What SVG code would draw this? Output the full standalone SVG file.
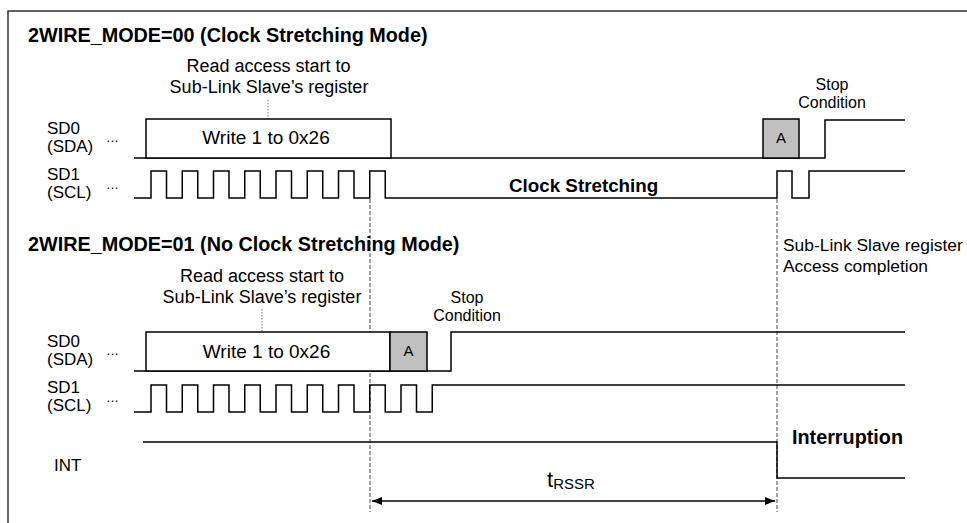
<svg xmlns="http://www.w3.org/2000/svg" width="967" height="523" viewBox="0 0 967 523">
<style>
text{font-family:"Liberation Sans",Arial,sans-serif;fill:#000}
.b{font-weight:bold}
.w{fill:none;stroke:#000;stroke-width:1.5}
.box{fill:#fff;stroke:#000;stroke-width:1.5}
.ack{fill:#c0c0c0;stroke:#000;stroke-width:1.5}
.dash{stroke:#666;stroke-width:1.2;stroke-dasharray:4 2;fill:none}
.dot{stroke:#777;stroke-width:1;stroke-dasharray:1.5 1.5;fill:none}
.m{text-anchor:middle}
.el{font-size:13px}
</style>
<defs>
<marker id="ah" viewBox="0 0 10 8" refX="10" refY="4" markerWidth="10" markerHeight="8" markerUnits="userSpaceOnUse" orient="auto-start-reverse">
<path d="M0,0 L10,4 L0,8 Z" fill="#000"/>
</marker>
</defs>
<rect width="967" height="523" fill="#fff"/>
<path d="M8,523 V11 H967" fill="none" stroke="#333" stroke-width="1.5"/>

<g id="connectors">
<path class="dash" d="M370,199 V512"/>
<path class="dash" d="M777,199 V512"/>
<path class="dot" d="M268,100 V118"/>
<path class="dot" d="M262,309 V331"/>
<path d="M372,501 H775" stroke="#000" stroke-width="1.5" fill="none" marker-start="url(#ah)" marker-end="url(#ah)"/>
</g>

<g id="section1">
<text class="b" x="28" y="42" font-size="19.8">2WIRE_MODE=00 (Clock Stretching Mode)</text>
<text class="m" x="268.5" y="72" font-size="18">Read access start to</text>
<text class="m" x="269" y="93" font-size="18">Sub-Link Slave’s register</text>
</g>

<g id="sda1">
<text x="47" y="134" font-size="17">SD0</text>
<text x="47" y="152" font-size="17">(SDA)</text>
<text class="el" x="106" y="142">…</text>
<path class="w" d="M134,158 H825 V120 H905"/>
<rect class="box" x="146" y="119" width="245" height="39"/>
<text class="m" x="266" y="144" font-size="19">Write 1 to 0x26</text>
<rect class="ack" x="763" y="119" width="36" height="39"/>
<text class="m" x="781" y="143" font-size="15">A</text>
<text class="m" x="832" y="90" font-size="16">Stop</text>
<text class="m" x="832" y="108" font-size="16">Condition</text>
</g>

<g id="scl1">
<text x="47" y="180" font-size="17">SD1</text>
<text x="47" y="198" font-size="17">(SCL)</text>
<text class="el" x="106" y="189">…</text>
<path class="w" d="M134,198 H151 V171 H166.5 V198 H182.25 V171 H197.75 V198 H213.5 V171 H229 V198 H244.75 V171 H260.25 V198 H276 V171 H291.5 V198 H307.25 V171 H322.75 V198 H338.5 V171 H354 V198 H369.75 V171 H385.25 V198 H777 V171 H792 V198 H809 V171 H905"/>
<text class="b" x="509" y="192" font-size="18.8">Clock Stretching</text>
</g>

<g id="section2">
<text class="b" x="28" y="251" font-size="19.8">2WIRE_MODE=01 (No Clock Stretching Mode)</text>
<text class="m" x="262" y="282" font-size="18">Read access start to</text>
<text class="m" x="262" y="303" font-size="18">Sub-Link Slave’s register</text>
<text x="783" y="251" font-size="17.4">Sub-Link Slave register</text>
<text x="783" y="272" font-size="17.4">Access completion</text>
</g>

<g id="sda2">
<text x="47" y="347" font-size="17">SD0</text>
<text x="47" y="365" font-size="17">(SDA)</text>
<text class="el" x="106" y="355">…</text>
<path class="w" d="M134,371 H451 V332 H905"/>
<rect class="box" x="146" y="332" width="244" height="39"/>
<text class="m" x="266.5" y="358" font-size="19">Write 1 to 0x26</text>
<rect class="ack" x="390" y="332" width="37" height="39"/>
<text class="m" x="408.5" y="356" font-size="15">A</text>
<text class="m" x="467" y="303" font-size="16">Stop</text>
<text class="m" x="467" y="321" font-size="16">Condition</text>
</g>

<g id="scl2">
<text x="47" y="393" font-size="17">SD1</text>
<text x="47" y="411" font-size="17">(SCL)</text>
<text class="el" x="106" y="402">…</text>
<path class="w" d="M134,412 H151 V385 H166.5 V412 H182.25 V385 H197.75 V412 H213.5 V385 H229 V412 H244.75 V385 H260.25 V412 H276 V385 H291.5 V412 H307.25 V385 H322.75 V412 H338.5 V385 H354 V412 H369.75 V385 H385.25 V412 H401 V385 H416.5 V412 H432.25 V385 H905"/>
</g>

<g id="int">
<text x="54" y="471" font-size="17">INT</text>
<path class="w" d="M143,442 H777 V478 H905"/>
<text class="b" x="792" y="444" font-size="19.8">Interruption</text>
</g>

<g id="trssr">
<text x="547" y="487" font-size="22">t<tspan font-size="15" dy="2">RSSR</tspan></text>
</g>
</svg>
